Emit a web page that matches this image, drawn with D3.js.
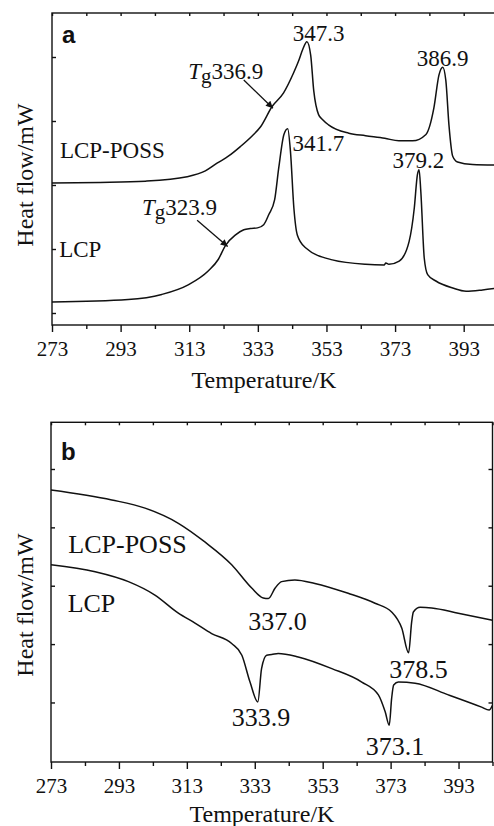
<!DOCTYPE html>
<html>
<head>
<meta charset="utf-8">
<script src="https://cdn.jsdelivr.net/npm/d3@7"></script>
<style>
  body { margin: 0; background: #fff; }
  svg { display: block; }
  text { font-family: "Liberation Serif", "Times New Roman", serif; fill: #111; }
  .axis path, .axis line { stroke: #111; stroke-width: 1.4; }
  .curve { fill: none; stroke: #111; stroke-width: 1.5; stroke-linejoin: round; }
</style>
</head>
<body>
<script>
// temperature axis (K)
var majorTicks = [273, 293, 313, 333, 353, 373, 393];
var minorTicks = [283, 303, 323, 343, 363, 383, 403];
var flowTicks = [0, 1, 2, 3, 4];

// panel a: heating scan, [T (K), heat flow (arb.)]
var aPoss = [[273, 2.03], [287, 2.04], [300.2, 2.06], [312.4, 2.13], [317.7, 2.22], [321.1, 2.34],
  [324.4, 2.45], [327.9, 2.6], [331.4, 2.77], [333.8, 2.91], [337.2, 3.23], [340.5, 3.44],
  [343.4, 3.75], [344.9, 3.94], [346.1, 4.12], [347.3, 4.24], [348.4, 4.03], [349.3, 3.47],
  [350.7, 3.1], [351.9, 3.02], [353.6, 2.94], [359.5, 2.81], [364.4, 2.77], [370, 2.73],
  [374.1, 2.69], [378.1, 2.69], [382, 2.79], [384.3, 3.2], [385.8, 3.72], [386.9, 3.84],
  [387.8, 3.63], [388.7, 2.94], [389.8, 2.45], [391.2, 2.36], [395.6, 2.32], [403, 2.31]];
var aLcp = [[273, 0.17], [295.2, 0.21], [305, 0.29], [312.7, 0.44], [318.6, 0.66], [321.5, 0.84],
  [323.5, 1.05], [326.5, 1.22], [328.9, 1.3], [330.8, 1.32], [332.9, 1.33], [334.7, 1.38],
  [336.2, 1.54], [337.9, 1.77], [339.1, 2.27], [340.6, 2.79], [341.7, 2.88], [342.5, 2.53],
  [343.5, 1.64], [344.5, 1.22], [346.9, 1.02], [354.7, 0.83], [364.4, 0.76], [369.8, 0.75],
  [370.3, 0.78], [371.2, 0.76], [374.2, 0.81], [377.1, 1.12], [378.6, 1.64], [379.5, 2.16],
  [380, 2.24], [380.5, 1.9], [381.5, 0.86], [382.5, 0.6], [384.9, 0.5], [389.8, 0.39],
  [393.7, 0.34], [398.5, 0.36], [403, 0.39]];

// panel b: cooling scan
var bPoss = [[273, 3.64], [290.9, 3.47], [300.7, 3.33], [310.5, 3.07], [318.3, 2.75], [326.2, 2.36],
  [332.1, 1.96], [335.5, 1.79], [337, 1.78], [339, 1.96], [340.9, 2.07], [344.8, 2.1],
  [350.7, 2.04], [360.5, 1.87], [368.4, 1.7], [373.3, 1.55], [376.3, 1.27], [378.3, 0.85],
  [379.2, 1.38], [379.7, 1.55], [381.7, 1.63], [385.1, 1.62], [392.9, 1.53], [403, 1.41]];
var bLcp = [[273, 2.36], [286, 2.24], [295.8, 2.07], [303.6, 1.84], [310.5, 1.53], [315.4, 1.36],
  [320.3, 1.18], [326.2, 1.01], [329.2, 0.81], [331.6, 0.35], [333.9, 0.01], [335, 0.58],
  [336.5, 0.81], [338, 0.82], [339.9, 0.84], [345.8, 0.78], [355.7, 0.58], [364.5, 0.35],
  [369.4, 0.13], [371.4, -0.16], [372.6, -0.39], [373.3, 0.07], [373.9, 0.3], [375.3, 0.35],
  [380.2, 0.33], [390, 0.13], [399.8, -0.08], [402, -0.13], [403, -0.05]];

// text annotations: [label, T, flow, anchor]
var aNotes = [["347.3", 350.7, 4.25, "middle"], ["386.9", 386.85, 3.86, "middle"],
  ["341.7", 343.1, 2.53, "start"], ["379.2", 379.8, 2.27, "middle"],
  ["LCP-POSS", 275.3, 2.42, "start"], ["LCP", 275.1, 0.875, "start"]];
var aTg = [["336.9", 312.7, 3.66, [328.9, 3.64], [337.4, 3.2]],
  ["323.9", 299.2, 1.53, [315.3, 1.45], [324.2, 1.04]]];
var bNotes = [["337.0", 339.7, 1.25, "middle"], ["378.5", 381.2, 0.42, "middle"],
  ["333.9", 334.8, -0.41, "middle"], ["373.1", 374.3, -0.9, "middle"],
  ["LCP-POSS", 278.1, 2.56, "start"], ["LCP", 277.9, 1.55, "start"]];

var W = 494, H = 826;
var svg = d3.select("body").append("svg").attr("width", W).attr("height", H);

svg.append("defs").append("marker")
    .attr("id", "arrow")
    .attr("viewBox", "0 0 10 10")
    .attr("refX", 10).attr("refY", 5)
    .attr("markerWidth", 11).attr("markerHeight", 7)
    .attr("markerUnits", "userSpaceOnUse")
    .attr("orient", "auto")
    .append("path").attr("d", "M0,0L10,5L0,10z").attr("fill", "#111");

function panel(opt) {
    var x = d3.scaleLinear().domain([273, 403]).range([opt.left, opt.right]);
    var y = d3.scaleLinear().domain(opt.yDomain).range([opt.bottom, opt.top]);
    var g = svg.append("g");

    var line = d3.line()
        .x(function (d) { return x(d[0]); })
        .y(function (d) { return y(d[1]); })
        .curve(d3.curveMonotoneX);

    opt.series.forEach(function (s) {
        g.append("path").attr("class", "curve").attr("d", line(s));
    });

    // frame
    g.append("rect")
        .attr("x", opt.left).attr("y", opt.top)
        .attr("width", opt.right - opt.left).attr("height", opt.bottom - opt.top)
        .attr("fill", "none").attr("stroke", "#111").attr("stroke-width", 1.4);

    var bottomAx = g.append("g").attr("class", "axis")
        .attr("transform", "translate(0," + opt.bottom + ")")
        .call(d3.axisBottom(x).tickValues(majorTicks).tickSize(7).tickPadding(9).tickFormat(d3.format("d")));
    bottomAx.selectAll("text").style("font-size", "21px").attr("fill", "#111");
    g.append("g").attr("class", "axis")
        .attr("transform", "translate(0," + opt.bottom + ")")
        .call(d3.axisBottom(x).tickValues(minorTicks).tickSize(4).tickFormat(""));
    g.append("g").attr("class", "axis")
        .attr("transform", "translate(0," + opt.top + ")")
        .call(d3.axisTop(x).tickValues(majorTicks.concat(minorTicks)).tickSize(-3).tickFormat(""));
    g.append("g").attr("class", "axis")
        .attr("transform", "translate(" + opt.left + ",0)")
        .call(d3.axisLeft(y).tickValues(flowTicks).tickSize(-4).tickFormat(""));
    g.append("g").attr("class", "axis")
        .attr("transform", "translate(" + opt.right + ",0)")
        .call(d3.axisRight(y).tickValues(flowTicks).tickSize(-4).tickFormat(""));
    g.selectAll(".axis .domain").remove();

    g.append("text")
        .attr("x", opt.xTitle[0]).attr("y", opt.xTitle[1])
        .attr("text-anchor", "middle").style("font-size", "24px")
        .text("Temperature/K");
    g.append("text")
        .attr("transform", "translate(33," + opt.yTitleY + ") rotate(-90)")
        .attr("text-anchor", "middle").style("font-size", "24px")
        .text("Heat flow/mW");
    g.append("text")
        .attr("x", opt.left + 10).attr("y", opt.letterY)
        .style("font-family", "'Liberation Sans', Arial, sans-serif")
        .style("font-weight", "bold").style("font-size", "24px")
        .text(opt.letter);

    opt.notes.forEach(function (n) {
        g.append("text")
            .attr("x", x(n[1])).attr("y", y(n[2]))
            .attr("text-anchor", n[3])
            .style("font-size", opt.noteSize + "px")
            .text(n[0]);
    });

    (opt.tg || []).forEach(function (n) {
        var t = g.append("text")
            .attr("x", x(n[1])).attr("y", y(n[2]))
            .style("font-size", opt.noteSize + "px");
        t.append("tspan").style("font-style", "italic").text("T");
        t.append("tspan").attr("dy", 4).style("font-size", (opt.noteSize - 2) + "px").text("g");
        t.append("tspan").attr("dy", -4).text(n[0]);
        g.append("line")
            .attr("x1", x(n[3][0])).attr("y1", y(n[3][1]))
            .attr("x2", x(n[4][0])).attr("y2", y(n[4][1]))
            .attr("stroke", "#111").attr("stroke-width", 1.3)
            .attr("marker-end", "url(#arrow)");
    });
}

panel({
    left: 52, right: 498, top: 13, bottom: 325,
    yDomain: [-0.1875, 4.6875],
    series: [aPoss, aLcp],
    notes: aNotes, tg: aTg, noteSize: 23,
    letter: "a", letterY: 43,
    xTitle: [264, 388], yTitleY: 175
});

panel({
    left: 51, right: 492.5, top: 422.3, bottom: 762,
    yDomain: [-1.02, 4.8],
    series: [bPoss, bLcp],
    notes: bNotes, noteSize: 26,
    letter: "b", letterY: 460,
    xTitle: [262, 821.5], yTitleY: 605
});
</script>
</body>
</html>
